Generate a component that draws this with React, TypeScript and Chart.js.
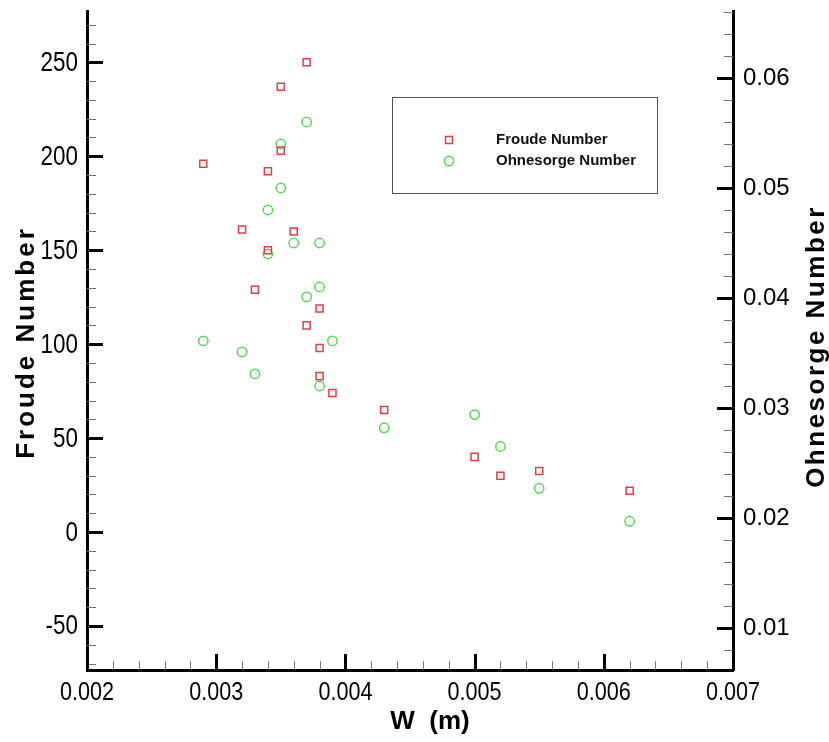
import React, { useEffect, useRef } from "react";
import { Chart, registerables } from "chart.js";

Chart.register(...registerables);

// ---- data ----
const FROUDE_W = [0.0029, 0.0032, 0.0033, 0.0034, 0.0034, 0.0035, 0.0035, 0.0036, 0.0037, 0.0037, 0.0038, 0.0038, 0.0038, 0.0039, 0.0043, 0.005, 0.0052, 0.0055, 0.0062];
const FROUDE = [196, 161, 129, 192, 150, 237, 203, 160, 250, 110, 119, 98, 83, 74, 65, 40, 30, 32.5, 22];
const OHNESORGE_W = [0.0029, 0.0032, 0.0033, 0.0034, 0.0034, 0.0035, 0.0035, 0.0036, 0.0037, 0.0037, 0.0038, 0.0038, 0.0038, 0.0039, 0.0043, 0.005, 0.0052, 0.0055, 0.0062];
const OHNESORGE = [0.0361, 0.0351, 0.0331, 0.048, 0.044, 0.054, 0.05, 0.045, 0.056, 0.0401, 0.045, 0.041, 0.032, 0.0361, 0.0282, 0.0294, 0.0265, 0.0227, 0.0197];

const W_TICKS = [0.002, 0.003, 0.004, 0.005, 0.006, 0.007];
const FROUDE_TICKS = [-50, 0, 50, 100, 150, 200, 250];
const OHN_TICKS = [0.01, 0.02, 0.03, 0.04, 0.05, 0.06];

const W_RANGE = [0.002, 0.007];
const FROUDE_RANGE = [-73.4, 277.3];
const OHN_RANGE = [0.00618, 0.06609];

const SERIES_NAMES = ["Froude Number", "Ohnesorge Number"];
const X_TITLE = "W  (m)";

const RED = "#e23c46";
const GREEN = "#52dc52";
const SANS = "'Liberation Sans', Arial, sans-serif";
const CONDENSE = 0.83;

function minorValues(min: number, max: number, step: number): number[] {
  const out: number[] = [];
  const a = Math.ceil(min / step - 1e-9);
  const b = Math.floor(max / step + 1e-9);
  for (let i = a; i <= b; i++) {
    if (i % 5 !== 0) out.push(i * step);
  }
  return out;
}

const inwardTicks = {
  id: "inwardTicks",
  afterDatasetsDraw(chart: any) {
    const { ctx, chartArea, scales } = chart;
    ctx.save();
    ctx.lineCap = "butt";
    const MAJ = 16;
    const MIN = 9;
    const drawSet = (scale: any, values: number[], len: number, width: number, color: string, kind: string) => {
      ctx.strokeStyle = color;
      ctx.lineWidth = width;
      for (const v of values) {
        const p = Math.round(scale.getPixelForValue(v)) + (width % 2 ? 0.5 : 0);
        ctx.beginPath();
        if (kind === "x") {
          ctx.moveTo(p, chartArea.bottom);
          ctx.lineTo(p, chartArea.bottom - len);
        } else if (kind === "l") {
          ctx.moveTo(chartArea.left, p);
          ctx.lineTo(chartArea.left + len, p);
        } else {
          ctx.moveTo(chartArea.right, p);
          ctx.lineTo(chartArea.right - len, p);
        }
        ctx.stroke();
      }
    };
    const x = scales.x, y = scales.y, y1 = scales.y1;
    drawSet(x, minorValues(x.min, x.max, 0.0002), MIN, 1, "#777", "x");
    drawSet(y, minorValues(y.min, y.max, 10), MIN, 1, "#777", "l");
    drawSet(y1, minorValues(y1.min, y1.max, 0.002), MIN, 1, "#777", "r");
    drawSet(x, W_TICKS, MAJ, 3, "#000", "x");
    drawSet(y, FROUDE_TICKS, MAJ, 3, "#000", "l");
    drawSet(y1, OHN_TICKS, MAJ, 3, "#000", "r");
    ctx.restore();
  },
};

const condensedLabels = {
  id: "condensedLabels",
  afterDraw(chart: any) {
    const { ctx, chartArea, scales } = chart;
    ctx.save();
    ctx.fillStyle = "#000";
    ctx.font = `27px ${SANS}`;
    ctx.textAlign = "right";
    ctx.textBaseline = "middle";
    for (const v of FROUDE_TICKS) {
      const py = scales.y.getPixelForValue(v);
      ctx.save();
      ctx.translate(chartArea.left - 9, py + 1);
      ctx.scale(CONDENSE, 1);
      ctx.fillText(String(v), 0, 0);
      ctx.restore();
    }
    ctx.font = `26px ${SANS}`;
    ctx.textAlign = "center";
    ctx.textBaseline = "alphabetic";
    for (const v of W_TICKS) {
      const px = scales.x.getPixelForValue(v);
      ctx.save();
      ctx.translate(px, chartArea.bottom + 30);
      ctx.scale(CONDENSE, 1);
      ctx.fillText(v.toFixed(3), 0, 0);
      ctx.restore();
    }
    ctx.restore();
  },
};

const titlesAndLegend = {
  id: "titlesAndLegend",
  afterDraw(chart: any) {
    const { ctx, chartArea } = chart;
    ctx.save();
    ctx.fillStyle = "#000";
    // left title
    ctx.font = `bold 26px ${SANS}`;
    (ctx as any).letterSpacing = "3px";
    ctx.textAlign = "center";
    ctx.textBaseline = "alphabetic";
    const cy = (chartArea.top + chartArea.bottom) / 2;
    ctx.save();
    ctx.translate(34, cy + 2);
    ctx.rotate(-Math.PI / 2);
    ctx.fillText(SERIES_NAMES[0], 0, 0);
    ctx.restore();
    // right title
    (ctx as any).letterSpacing = "2.5px";
    ctx.save();
    ctx.translate(824, cy + 6);
    ctx.rotate(-Math.PI / 2);
    ctx.fillText(SERIES_NAMES[1], 0, 0);
    ctx.restore();
    // bottom title
    (ctx as any).letterSpacing = "0px";
    ctx.fillText(X_TITLE, 430, 729);

    // legend box
    ctx.strokeStyle = "#555";
    ctx.lineWidth = 1;
    ctx.strokeRect(392.5, 97.5, 265, 96);
    // markers
    ctx.lineWidth = 1.5;
    ctx.strokeStyle = RED;
    ctx.strokeRect(445.5, 136.5, 7, 7);
    ctx.strokeStyle = GREEN;
    ctx.beginPath();
    ctx.ellipse(449, 161, 4.6, 4.8, 0, 0, Math.PI * 2);
    ctx.stroke();
    ctx.font = `bold 15px ${SANS}`;
    ctx.textAlign = "left";
    ctx.textBaseline = "middle";
    ctx.fillStyle = "#111";
    ctx.fillText(SERIES_NAMES[0], 496, 140);
    ctx.fillText(SERIES_NAMES[1], 496, 161);
    ctx.restore();
  },
};

export default function App() {
  const ref = useRef<HTMLCanvasElement | null>(null);
  useEffect(() => {
    if (!ref.current) return;
    Chart.defaults.font.family = SANS;
    const chart = new Chart(ref.current, {
      type: "scatter",
      data: {
        datasets: [
          {
            label: SERIES_NAMES[0],
            data: FROUDE_W.map((w, i) => ({ x: w, y: FROUDE[i] })),
            yAxisID: "y",
            showLine: false,
            pointStyle: "rect",
            pointRadius: 5,
            pointHoverRadius: 5,
            pointBorderWidth: 1.5,
            borderColor: RED,
            pointBorderColor: RED,
            backgroundColor: "rgba(0,0,0,0)",
            pointBackgroundColor: "rgba(0,0,0,0)",
          },
          {
            label: SERIES_NAMES[1],
            data: OHNESORGE_W.map((w, i) => ({ x: w, y: OHNESORGE[i] })),
            yAxisID: "y1",
            showLine: false,
            pointStyle: "circle",
            pointRadius: 4.7,
            pointHoverRadius: 4.7,
            pointBorderWidth: 1.5,
            borderColor: GREEN,
            pointBorderColor: GREEN,
            backgroundColor: "rgba(0,0,0,0)",
            pointBackgroundColor: "rgba(0,0,0,0)",
          },
        ],
      },
      options: {
        responsive: false,
        animation: false,
        layout: { padding: { top: 11, left: 0, right: 0, bottom: 0 } },
        plugins: { legend: { display: false }, tooltip: { enabled: false } },
        scales: {
          x: {
            type: "linear",
            position: "bottom",
            min: W_RANGE[0],
            max: W_RANGE[1],
            afterBuildTicks: (s: any) => {
              s.ticks = W_TICKS.map((v) => ({ value: v }));
            },
            afterFit: (s: any) => {
              s.height = 72;
              s.paddingLeft = 0;
              s.paddingRight = 0;
            },
            grid: { display: false, drawTicks: false },
            border: { display: true, color: "#000", width: 3 },
            ticks: { display: false },
          },
          y: {
            type: "linear",
            position: "left",
            min: FROUDE_RANGE[0],
            max: FROUDE_RANGE[1],
            afterBuildTicks: (s: any) => {
              s.ticks = FROUDE_TICKS.map((v) => ({ value: v }));
            },
            afterFit: (s: any) => {
              s.width = 87;
              s.paddingTop = 0;
              s.paddingBottom = 0;
            },
            grid: { display: false, drawTicks: false },
            border: { display: true, color: "#000", width: 3 },
            ticks: { display: false },
          },
          y1: {
            type: "linear",
            position: "right",
            min: OHN_RANGE[0],
            max: OHN_RANGE[1],
            afterBuildTicks: (s: any) => {
              s.ticks = OHN_TICKS.map((v) => ({ value: v }));
            },
            afterFit: (s: any) => {
              s.width = 96;
              s.paddingTop = 0;
              s.paddingBottom = 0;
            },
            grid: { display: false, drawTicks: false },
            border: { display: true, color: "#000", width: 3 },
            ticks: {
              autoSkip: false,
              padding: 10,
              color: "#000",
              font: { family: SANS, size: 24 },
              callback: (v: any) => Number(v).toFixed(2),
            },
          },
        },
      },
      plugins: [inwardTicks, condensedLabels, titlesAndLegend],
    } as any);
    return () => chart.destroy();
  }, []);
  return (
    <canvas
      ref={ref}
      width={829}
      height={742}
      style={{ position: "absolute", left: 0, top: 0, display: "block", background: "#fff" }}
    />
  );
}
